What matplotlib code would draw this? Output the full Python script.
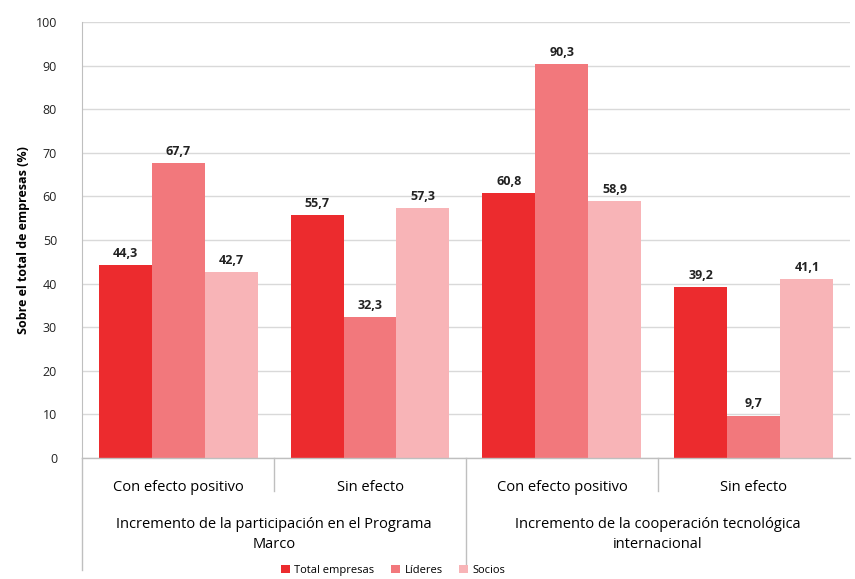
import numpy as np
import matplotlib.pyplot as plt

# data
categories = ["Con efecto positivo", "Sin efecto", "Con efecto positivo", "Sin efecto"]
groups = ["Incremento de la participación en el Programa\nMarco",
          "Incremento de la cooperación tecnológica\ninternacional"]
series = ["Total empresas", "Líderes", "Socios"]
total = [44.3, 55.7, 60.8, 39.2]
lideres = [67.7, 32.3, 90.3, 9.7]
socios = [42.7, 57.3, 58.9, 41.1]
colors = ["#EC2B2E", "#F2787C", "#F8B4B7"]

plt.rcParams['font.family'] = ['Open Sans', 'DejaVu Sans']

fig = plt.figure(figsize=(8.55, 5.79), dpi=100)
ax = fig.add_axes([0.096, 0.209, 0.898, 0.753])

x = np.arange(len(categories))
w = 0.276
for i, (vals, col) in enumerate(zip([total, lideres, socios], colors)):
    pos = x + (i - 1) * w
    ax.bar(pos, vals, w, color=col, label=series[i], zorder=3)
    for p, v in zip(pos, vals):
        ax.text(p, v + 1.2, f"{v:.1f}".replace(".", ","), ha="center", va="bottom",
                fontsize=9, fontweight="bold", color="#222222")

ax.set_xlim(-0.5, 3.5)
ax.set_ylim(0, 100)
ax.set_yticks(range(0, 101, 10))
ax.tick_params(axis="y", length=0, labelsize=9, colors="#222222", pad=18)
ax.set_xticks([])
ax.grid(axis="y", color="#D9D9D9", linewidth=1, zorder=0)
for s in ["top", "right", "bottom"]:
    ax.spines[s].set_visible(False)
ax.spines["left"].set_color("#BFBFBF")
ax.set_ylabel("Sobre el total de empresas (%)", fontsize=9, fontweight="bold", labelpad=4)

trans = ax.get_xaxis_transform()
ax.plot([-0.5, 3.5], [0, 0], color="#BFBFBF", lw=1, transform=trans, clip_on=False, zorder=4)
ax.plot([-0.5, -0.5], [0, -0.257], color="#BFBFBF", lw=1, transform=trans, clip_on=False)
ax.plot([1.5, 1.5], [0, -0.257], color="#BFBFBF", lw=1, transform=trans, clip_on=False)
for xs in [0.5, 2.5]:
    ax.plot([xs, xs], [0, -0.075], color="#BFBFBF", lw=1, transform=trans, clip_on=False)

for xi, c in zip(x, categories):
    ax.text(xi, -0.068, c, ha="center", va="center", fontsize=10.5, transform=trans)
for gi, g in enumerate(groups):
    ax.text(0.5 + 2 * gi, -0.176, g, ha="center", va="center", fontsize=10.5,
            transform=trans, linespacing=1.45)

fig.legend(loc="lower center", bbox_to_anchor=(0.46, -0.012), ncol=3, frameon=False,
           fontsize=8, handlelength=0.8, handleheight=0.8, handletextpad=0.4,
           columnspacing=1.5)

fig.savefig("out.png", dpi=100)
